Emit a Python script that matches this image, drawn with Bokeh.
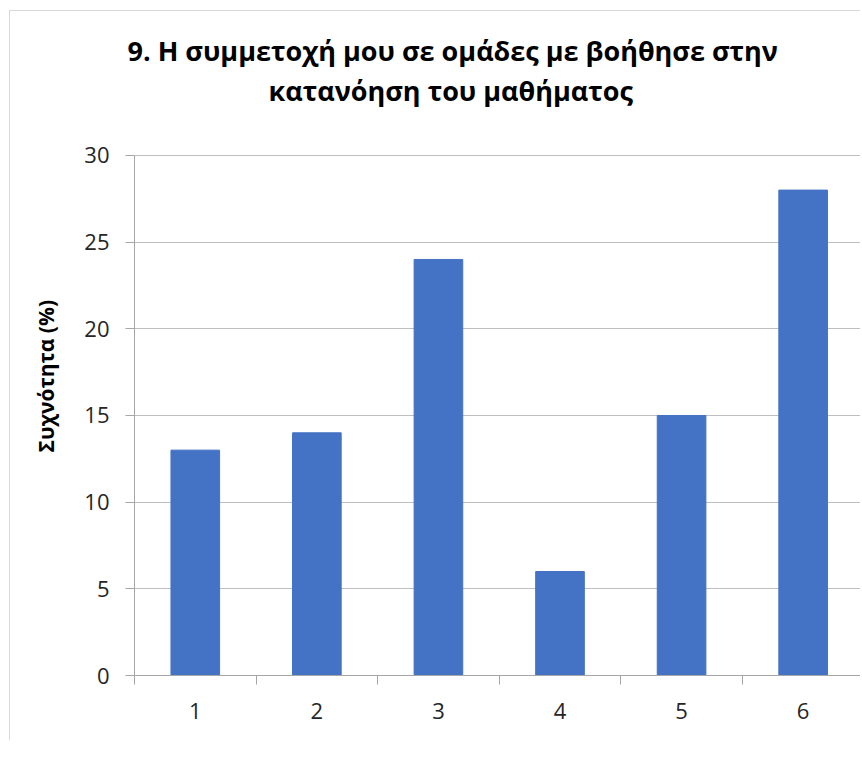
from bokeh.plotting import figure
from bokeh.models import Range1d, FixedTicker, Title
from bokeh.embed import file_html
from bokeh.resources import INLINE

categories = ["1", "2", "3", "4", "5", "6"]
values = [13, 14, 24, 6, 15, 28]
y_ticks = [0, 5, 10, 15, 20, 25, 30]
title_lines = ["9. Η συμμετοχή μου σε ομάδες με βοήθησε στην", "κατανόηση του μαθήματος"]
y_label = "Συχνότητα (%)"

BAR = "#4472C4"
GRID = "#bfbfbf"
AXIS = "#a6a6a6"
TXT = "#262626"
FONT = "Open Sans"

xs = list(range(1, len(categories) + 1))
bounds = [x - 0.5 for x in xs] + [xs[-1] + 0.5]
y_max = y_ticks[-1]

# the frame reaches a bit above the top gridline (blank headroom under the title)
p = figure(width=851, height=730, output_backend="svg", toolbar_location=None,
           title=None,
           x_range=Range1d(0.5, 6.48), y_range=Range1d(0, 32.65),
           min_border_left=124, min_border_right=0, min_border_bottom=84,
           min_border_top=0)
p.styles = {"margin-left": "9px", "margin-top": "10px", "padding-top": "18px",
            "border-left": "1px solid #d9d9d9", "border-top": "1px solid #d9d9d9"}
p.outline_line_color = None
p.background_fill_color = "white"
p.border_fill_color = "white"

p.vbar(x=xs, top=values, width=0.4, fill_color=BAR, line_color=BAR)

# y axis
p.yaxis.ticker = FixedTicker(ticks=y_ticks)
p.yaxis.bounds = (0, y_max)
p.yaxis.axis_line_color = AXIS
p.yaxis.major_tick_line_color = AXIS
p.yaxis.major_tick_out = 9
p.yaxis.major_tick_in = 0
p.yaxis.minor_tick_line_color = None
p.yaxis.major_label_text_font = FONT
p.yaxis.major_label_text_font_size = "22px"
p.yaxis.major_label_text_color = TXT
p.yaxis.major_label_standoff = 16
p.ygrid.grid_line_color = GRID
p.ygrid.ticker = FixedTicker(ticks=y_ticks)

# x axis
p.xaxis.ticker = FixedTicker(ticks=xs, minor_ticks=bounds)
p.xaxis.major_label_overrides = {x: c for x, c in zip(xs, categories)}
p.xaxis.axis_line_color = AXIS
p.xaxis.major_tick_line_color = None
p.xaxis.major_tick_out = 0
p.xaxis.major_tick_in = 0
p.xaxis.minor_tick_line_color = AXIS
p.xaxis.minor_tick_out = 9
p.xaxis.minor_tick_in = 0
p.xaxis.major_label_text_font = FONT
p.xaxis.major_label_text_font_size = "22px"
p.xaxis.major_label_text_color = TXT
p.xaxis.major_label_standoff = 18
p.xgrid.grid_line_color = None

# y label as a title in the left panel
p.add_layout(Title(text=y_label, align="left", offset=223, standoff=40,
                   vertical_align="top",
                   text_font=FONT, text_font_style="bold", text_font_size="21px",
                   text_color="black"), "left")

# chart title, two lines (line nearest the plot first)
p.add_layout(Title(text=title_lines[1], align="left", offset=134, standoff=2,
                   text_font=FONT, text_font_style="bold", text_font_size="27px",
                   text_color="black"), "above")
p.add_layout(Title(text=title_lines[0], align="left", offset=-7, standoff=0,
                   text_font=FONT, text_font_style="bold", text_font_size="27px",
                   text_color="black"), "above")

open("out.html", "w").write(file_html(p, INLINE))
